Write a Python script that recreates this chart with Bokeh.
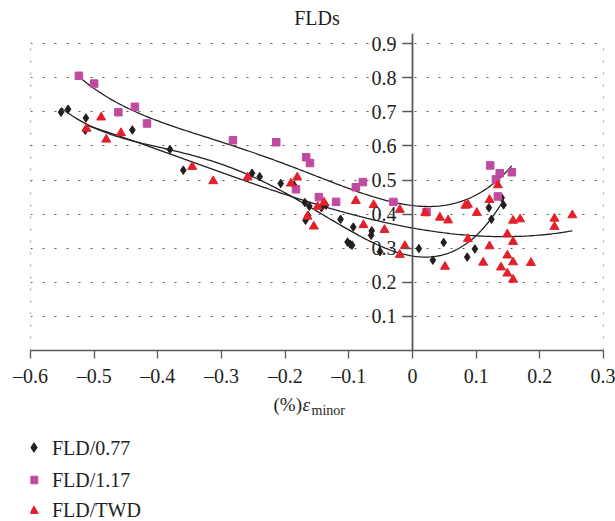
import numpy as np
from bokeh.plotting import figure
from bokeh.layouts import column
from bokeh.models import Range1d, FixedTicker
from bokeh.core.properties import value
from bokeh.embed import file_html
from bokeh.resources import INLINE

# ---------------- data ----------------
x_077 = [-0.552, -0.541, -0.513, -0.514, -0.440, -0.381, -0.360, -0.252, -0.240, -0.207,
         -0.186, -0.169, -0.162, -0.164, -0.168, -0.143, -0.136, -0.113, -0.093, -0.064,
         -0.065, -0.102, -0.098, -0.095, -0.051, 0.010, 0.032, 0.049, 0.086, 0.098,
         0.124, 0.120, 0.140, 0.143]
y_077 = [0.699, 0.708, 0.682, 0.646, 0.647, 0.590, 0.529, 0.520, 0.510, 0.490,
         0.485, 0.434, 0.423, 0.396, 0.382, 0.419, 0.426, 0.385, 0.362, 0.351,
         0.338, 0.318, 0.312, 0.309, 0.290, 0.299, 0.265, 0.317, 0.274, 0.298,
         0.385, 0.419, 0.448, 0.427]

x_117 = [-0.524, -0.500, -0.462, -0.436, -0.417, -0.282, -0.214, -0.167, -0.161, -0.183,
         -0.147, -0.120, -0.089, -0.078, -0.030, 0.022, 0.122, 0.137, 0.156, 0.131, 0.134]
y_117 = [0.806, 0.783, 0.699, 0.715, 0.666, 0.617, 0.611, 0.567, 0.550, 0.473,
         0.450, 0.436, 0.479, 0.494, 0.436, 0.406, 0.543, 0.520, 0.523, 0.502, 0.452]

x_twd = [-0.512, -0.489, -0.481, -0.458, -0.346, -0.313, -0.259, -0.191, -0.181, -0.165,
         -0.155, -0.149, -0.139, -0.089, -0.061, -0.077, -0.044, -0.020, -0.020, -0.012,
         0.020, 0.043, 0.056, 0.051, 0.083, 0.087, 0.101, 0.087, 0.111, 0.121,
         0.121, 0.134, 0.149, 0.158, 0.169, 0.158, 0.149, 0.139, 0.149, 0.158,
         0.158, 0.186, 0.223, 0.223, 0.251]
y_twd = [0.651, 0.684, 0.619, 0.638, 0.539, 0.497, 0.508, 0.490, 0.508, 0.393,
         0.364, 0.422, 0.434, 0.439, 0.427, 0.368, 0.354, 0.413, 0.281, 0.307,
         0.404, 0.390, 0.382, 0.246, 0.425, 0.428, 0.404, 0.327, 0.258, 0.442,
         0.306, 0.485, 0.341, 0.381, 0.385, 0.319, 0.279, 0.244, 0.226, 0.259,
         0.208, 0.257, 0.387, 0.363, 0.397]

series_names = ["FLD/0.77", "FLD/1.17", "FLD/TWD"]
trend_degree = [4, 4, 3]
x_ticks = [-0.6, -0.5, -0.4, -0.3, -0.2, -0.1, 0.0, 0.1, 0.2, 0.3]
x_tick_labels = ["\u20130.6", "\u20130.5", "\u20130.4", "\u20130.3", "\u20130.2", "\u20130.1",
                 "0", "0.1", "0.2", "0.3"]
y_ticks = [0.1, 0.2, 0.3, 0.4, 0.5, 0.6, 0.7, 0.8, 0.9]
y_tick_labels = ["0.1", "0.2", "0.3", "0.4", "0.5", "0.6", "0.7", "0.8", "0.9"]
x_title = "(%)"
x_title_sym = "\u03b5"
x_title_sub = "minor"

FONT = "Liberation Serif"
TXT = "#231f20"
AX = "#58595b"
GRID = "#58595b"
colors = ["#231f20", "#bf4a9f", "#e3202a"]
markers = ["diamond", "square", "triangle"]
msizes = [8.5, 7.5, 9]
key_sizes = [9.5, 7.5, 8.5]

p = figure(width=615, height=395, output_backend="svg", toolbar_location=None,
           x_range=Range1d(-0.6, 0.3), y_range=Range1d(0, 0.93),
           min_border_left=30, min_border_right=12, min_border_top=32,
           min_border_bottom=45, title="FLDs")
p.outline_line_color = None

p.title.align = "center"
p.title.text_font = FONT
p.title.text_font_size = "20px"
p.title.text_font_style = "normal"
p.title.text_color = TXT
p.title.standoff = 9

# grid
p.xgrid.grid_line_color = None
p.ygrid.ticker = FixedTicker(ticks=y_ticks)
p.ygrid.grid_line_color = GRID
p.ygrid.grid_line_dash = "2 10"
p.ygrid.grid_line_width = 1.2
# dotted side borders of the plot area
p.segment(x0=[x_ticks[0], x_ticks[-1]], y0=[0, 0], x1=[x_ticks[0], x_ticks[-1]],
          y1=[y_ticks[-1], y_ticks[-1]], line_color=GRID, line_dash="2 10", line_width=1.2)

# trend lines (polynomial fits of the data)
def trend(xs, ys, deg):
    c = np.polyfit(xs, ys, deg)
    xx = np.linspace(min(xs), max(xs), 200)
    return xx, np.polyval(c, xx)

all_series = [(x_077, y_077), (x_117, y_117), (x_twd, y_twd)]
for (xs, ys), deg in zip(all_series, trend_degree):
    xx, yy = trend(xs, ys, deg)
    p.line(xx, yy, line_color=TXT, line_width=1.3)

for (xs, ys), m, c, s in zip(all_series, markers, colors, msizes):
    p.scatter(xs, ys, marker=m, size=s, fill_color=c, line_color=c)

# axes
p.xaxis.ticker = FixedTicker(ticks=x_ticks)
p.xaxis.major_label_overrides = dict(zip(x_ticks, x_tick_labels))
p.xaxis.major_label_text_font = FONT
p.xaxis.major_label_text_font_size = "20px"
p.xaxis.major_label_text_color = TXT
p.xaxis.axis_line_color = AX
p.xaxis.axis_line_width = 1.5
p.xaxis.major_tick_line_color = AX
p.xaxis.major_tick_line_width = 1.3
p.xaxis.major_tick_in = 0
p.xaxis.major_tick_out = 8
p.xaxis.minor_tick_line_color = None
p.xaxis.major_label_standoff = 6

p.yaxis.fixed_location = 0
p.yaxis.ticker = FixedTicker(ticks=y_ticks)
p.yaxis.major_label_overrides = dict(zip(y_ticks, y_tick_labels))
p.yaxis.major_label_text_font = FONT
p.yaxis.major_label_text_font_size = "20px"
p.yaxis.major_label_text_color = TXT
p.yaxis.axis_line_color = AX
p.yaxis.axis_line_width = 1.8
p.yaxis.major_tick_line_color = AX
p.yaxis.major_tick_line_width = 1.3
p.yaxis.major_tick_in = 0
p.yaxis.major_tick_out = 10
p.yaxis.minor_tick_line_color = None
p.yaxis.major_label_standoff = 6

# ---------- lower panel: axis title and legend (page-pixel coordinates) ----------
q = figure(width=615, height=126, output_backend="svg", toolbar_location=None,
           x_range=Range1d(30, 603), y_range=Range1d(521, 395),
           x_axis_location=None, y_axis_location=None,
           min_border_left=30, min_border_right=12, min_border_top=0, min_border_bottom=0)
q.outline_line_color = None
q.xgrid.grid_line_color = None
q.ygrid.grid_line_color = None

q.text(x=[273], y=[404], text=[x_title], text_font=value(FONT), text_font_size="19px",
       text_color=TXT, text_baseline="middle", text_align="left")
q.text(x=[302], y=[404], text=[x_title_sym], text_font=value(FONT), text_font_size="19px",
       text_font_style="italic", text_color=TXT, text_baseline="middle", text_align="left")
q.text(x=[311], y=[410], text=[x_title_sub], text_font=value(FONT), text_font_size="14px",
       text_color=TXT, text_baseline="middle", text_align="left")

# legend keys
key_x = 33.5
key_y = [447, 479.5, 510.5]
label_y = [447, 479, 509.5]
for name, m, c, s, ky, ly in zip(series_names, markers, colors, key_sizes, key_y, label_y):
    q.scatter([key_x], [ky], marker=m, size=s, fill_color=c, line_color=c)
    q.text(x=[51.5], y=[ly], text=[name], text_font=value(FONT), text_font_size="20px",
           text_color=TXT, text_baseline="middle", text_align="left")

open("out.html", "w").write(file_html(column(p, q, spacing=0), INLINE))
